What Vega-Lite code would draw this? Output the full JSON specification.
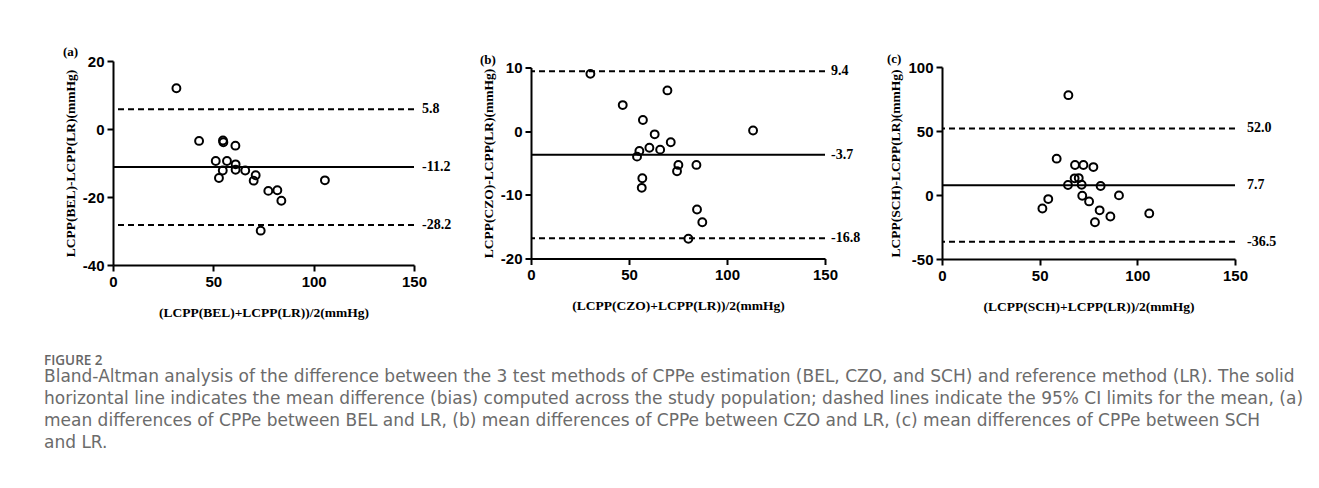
{
  "$schema": "https://vega.github.io/schema/vega-lite/v6.json",
  "background": "white",
  "padding": {"left": 44, "top": 46, "right": 5, "bottom": 5},
  "datasets": {
    "a": [
      {"mean": 31.6, "diff": 12.0}, {"mean": 42.9, "diff": -3.5}, {"mean": 54.8, "diff": -3.4},
      {"mean": 55.0, "diff": -3.9}, {"mean": 61.0, "diff": -4.9}, {"mean": 51.2, "diff": -9.4},
      {"mean": 56.8, "diff": -9.4}, {"mean": 61.1, "diff": -10.4}, {"mean": 61.1, "diff": -12.0},
      {"mean": 54.7, "diff": -12.2}, {"mean": 52.8, "diff": -14.4}, {"mean": 65.9, "diff": -12.2},
      {"mean": 71.1, "diff": -13.6}, {"mean": 70.1, "diff": -15.2}, {"mean": 77.4, "diff": -18.2},
      {"mean": 81.9, "diff": -18.0}, {"mean": 83.9, "diff": -21.1}, {"mean": 105.6, "diff": -15.1},
      {"mean": 73.6, "diff": -29.9}
    ],
    "b": [
      {"mean": 30.3, "diff": 9.0}, {"mean": 46.8, "diff": 4.1}, {"mean": 69.6, "diff": 6.4},
      {"mean": 57.1, "diff": 1.75}, {"mean": 63.1, "diff": -0.5}, {"mean": 113.3, "diff": 0.1},
      {"mean": 71.3, "diff": -1.75}, {"mean": 60.4, "diff": -2.6}, {"mean": 65.9, "diff": -2.9},
      {"mean": 55.3, "diff": -3.1}, {"mean": 54.1, "diff": -4.0}, {"mean": 75.2, "diff": -5.3},
      {"mean": 74.5, "diff": -6.3}, {"mean": 84.4, "diff": -5.3}, {"mean": 56.8, "diff": -7.4},
      {"mean": 56.5, "diff": -8.9}, {"mean": 84.7, "diff": -12.3}, {"mean": 87.4, "diff": -14.3},
      {"mean": 80.3, "diff": -16.9}
    ],
    "c": [
      {"mean": 64.7, "diff": 78.0}, {"mean": 58.7, "diff": 28.4}, {"mean": 68.1, "diff": 23.4},
      {"mean": 72.4, "diff": 23.4}, {"mean": 77.5, "diff": 21.8}, {"mean": 67.9, "diff": 13.0},
      {"mean": 70.0, "diff": 13.2}, {"mean": 64.5, "diff": 7.8}, {"mean": 71.5, "diff": 8.0},
      {"mean": 81.2, "diff": 7.0}, {"mean": 71.8, "diff": -0.6}, {"mean": 90.6, "diff": -0.3},
      {"mean": 54.4, "diff": -3.2}, {"mean": 51.4, "diff": -10.5}, {"mean": 75.3, "diff": -5.0},
      {"mean": 80.7, "diff": -12.0}, {"mean": 86.2, "diff": -16.8}, {"mean": 78.3, "diff": -21.3},
      {"mean": 106.1, "diff": -14.4}
    ],
    "la": [
      {"v": 5.8, "lab": "5.8", "kind": "limit"},
      {"v": -11.2, "lab": "-11.2", "kind": "mean"},
      {"v": -28.2, "lab": "-28.2", "kind": "limit"}
    ],
    "lb": [
      {"v": 9.4, "lab": "9.4", "kind": "limit"},
      {"v": -3.7, "lab": "-3.7", "kind": "mean"},
      {"v": -16.8, "lab": "-16.8", "kind": "limit"}
    ],
    "lc": [
      {"v": 52.0, "lab": "52.0", "kind": "limit"},
      {"v": 7.7, "lab": "7.7", "kind": "mean"},
      {"v": -36.5, "lab": "-36.5", "kind": "limit"}
    ]
  },
  "title": {
    "text": "FIGURE 2",
    "subtitle": [
      "Bland-Altman analysis of the difference between the 3 test methods of CPPe estimation (BEL, CZO, and SCH) and reference method (LR). The solid",
      "horizontal line indicates the mean difference (bias) computed across the study population; dashed lines indicate the 95% CI limits for the mean, (a)",
      "mean differences of CPPe between BEL and LR, (b) mean differences of CPPe between CZO and LR, (c) mean differences of CPPe between SCH",
      "and LR."
    ],
    "orient": "bottom",
    "anchor": "start",
    "frame": "bounds",
    "offset": 35,
    "dx": -19,
    "font": "Open Sans",
    "fontSize": 13.5,
    "fontWeight": 600,
    "color": "#666666",
    "subtitleFont": "DejaVu Sans",
    "subtitleFontSize": 17,
    "subtitleFontWeight": "normal",
    "subtitleColor": "#6b6b6b",
    "subtitleLineHeight": 22,
    "subtitlePadding": 2
  },
  "spacing": 117,
  "bounds": "flush",
  "center": true,
  "hconcat": [
    {
      "width": 301,
      "height": 204,
      "title": {"text": "(a)", "anchor": "start", "frame": "group", "dx": -50, "offset": -5},
      "layer": [
        {
          "data": {"name": "la"},
          "mark": {"type": "rule", "strokeWidth": 2, "color": "black"},
          "encoding": {
            "y": {"field": "v", "type": "quantitative"},
            "strokeDash": {"field": "kind", "type": "nominal", "scale": {"domain": ["mean", "limit"], "range": [[1, 0], [6, 4]]}, "legend": null}
          }
        },
        {
          "data": {"name": "a"},
          "mark": {"type": "point", "shape": "circle", "filled": false, "stroke": "black", "strokeWidth": 2, "size": 62, "opacity": 1},
          "encoding": {
            "x": {"field": "mean", "type": "quantitative", "scale": {"domain": [0, 150], "nice": false, "zero": false},
                  "axis": {"values": [0, 50, 100, 150], "title": "(LCPP(BEL)+LCPP(LR))/2(mmHg)"}},
            "y": {"field": "diff", "type": "quantitative", "scale": {"domain": [-40, 20], "nice": false, "zero": false},
                  "axis": {"values": [-40, -30, -20, -10, 0, 10, 20], "title": "LCPP(BEL)-LCPP(LR)(mmHg)"}}
          }
        },
        {
          "data": {"name": "la"},
          "mark": {"type": "text", "align": "left", "baseline": "middle", "dx": 8, "font": "Liberation Serif", "fontSize": 14, "fontWeight": "bold", "color": "black", "clip": false},
          "encoding": {
            "x": {"datum": 150},
            "y": {"field": "v", "type": "quantitative"},
            "text": {"field": "lab"}
          }
        }
      ]
    },
    {
      "width": 294,
      "height": 191,
      "title": {"text": "(b)", "anchor": "start", "frame": "group", "dx": -51, "offset": -6},
      "layer": [
        {
          "data": {"name": "lb"},
          "mark": {"type": "rule", "strokeWidth": 2, "color": "black"},
          "encoding": {
            "y": {"field": "v", "type": "quantitative"},
            "strokeDash": {"field": "kind", "type": "nominal", "scale": {"domain": ["mean", "limit"], "range": [[1, 0], [6, 4]]}, "legend": null}
          }
        },
        {
          "data": {"name": "b"},
          "mark": {"type": "point", "shape": "circle", "filled": false, "stroke": "black", "strokeWidth": 2, "size": 62, "opacity": 1},
          "encoding": {
            "x": {"field": "mean", "type": "quantitative", "scale": {"domain": [0, 150], "nice": false, "zero": false},
                  "axis": {"values": [0, 50, 100, 150], "title": "(LCPP(CZO)+LCPP(LR))/2(mmHg)"}},
            "y": {"field": "diff", "type": "quantitative", "scale": {"domain": [-20, 10], "nice": false, "zero": false},
                  "axis": {"values": [-20, -10, 0, 10], "title": "LCPP(CZO)-LCPP(LR)(mmHg)"}}
          }
        },
        {
          "data": {"name": "lb"},
          "mark": {"type": "text", "align": "left", "baseline": "middle", "dx": 6, "font": "Liberation Serif", "fontSize": 14, "fontWeight": "bold", "color": "black", "clip": false},
          "encoding": {
            "x": {"datum": 150},
            "y": {"field": "v", "type": "quantitative"},
            "text": {"field": "lab"}
          }
        }
      ]
    },
    {
      "width": 293,
      "height": 192,
      "title": {"text": "(c)", "anchor": "start", "frame": "group", "dx": -55, "offset": -6},
      "layer": [
        {
          "data": {"name": "lc"},
          "mark": {"type": "rule", "strokeWidth": 2, "color": "black"},
          "encoding": {
            "y": {"field": "v", "type": "quantitative"},
            "strokeDash": {"field": "kind", "type": "nominal", "scale": {"domain": ["mean", "limit"], "range": [[1, 0], [6, 4]]}, "legend": null}
          }
        },
        {
          "data": {"name": "c"},
          "mark": {"type": "point", "shape": "circle", "filled": false, "stroke": "black", "strokeWidth": 2, "size": 62, "opacity": 1},
          "encoding": {
            "x": {"field": "mean", "type": "quantitative", "scale": {"domain": [0, 150], "nice": false, "zero": false},
                  "axis": {"values": [0, 50, 100, 150], "title": "(LCPP(SCH)+LCPP(LR))/2(mmHg)"}},
            "y": {"field": "diff", "type": "quantitative", "scale": {"domain": [-50, 100], "nice": false, "zero": false},
                  "axis": {"values": [-50, 0, 50, 100], "title": "LCPP(SCH)-LCPP(LR)(mmHg)"}}
          }
        },
        {
          "data": {"name": "lc"},
          "mark": {"type": "text", "align": "left", "baseline": "middle", "dx": 12, "font": "Liberation Serif", "fontSize": 14, "fontWeight": "bold", "color": "black", "clip": false},
          "encoding": {
            "x": {"datum": 150},
            "y": {"field": "v", "type": "quantitative"},
            "text": {"field": "lab"}
          }
        }
      ]
    }
  ],
  "config": {
    "view": {"stroke": null},
    "title": {"font": "Liberation Serif", "fontSize": 13, "fontWeight": "bold", "color": "black"},
    "axis": {
      "grid": false,
      "domainColor": "black",
      "domainWidth": 2,
      "tickColor": "black",
      "tickWidth": 2,
      "tickSize": 6,
      "labelFont": "Liberation Sans",
      "labelFontWeight": "bold",
      "labelFontSize": 15,
      "labelColor": "black",
      "labelFlush": false,
      "labelOverlap": false,
      "labelExpr": "'' + datum.value",
      "titleFont": "Liberation Serif",
      "titleFontSize": 13.5,
      "titleFontWeight": "bold",
      "titleColor": "black"
    },
    "axisX": {"labelPadding": 3, "titlePadding": 16},
    "axisY": {"labelPadding": 3, "titlePadding": 5}
  }
}
